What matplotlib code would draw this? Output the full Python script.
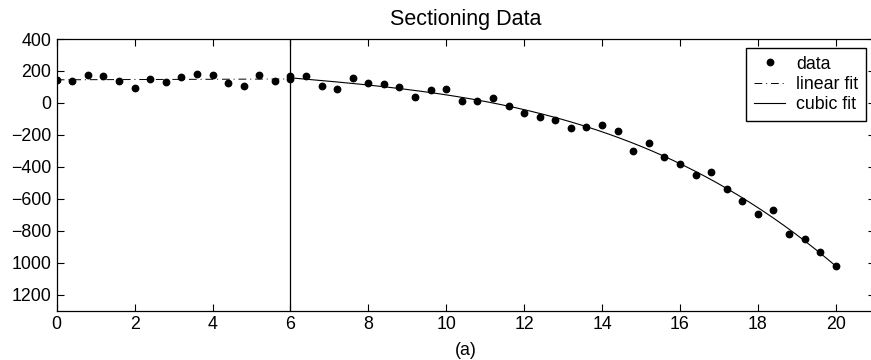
import numpy as np
import matplotlib
matplotlib.use('Agg')
import matplotlib.pyplot as plt

x_data = [0.0, 0.4, 0.8, 1.2, 1.6, 2.0, 2.4, 2.8, 3.2, 3.6, 4.0, 4.4, 4.8, 5.2, 5.6, 6.0,
          6.0, 6.4, 6.8, 7.2, 7.6, 8.0, 8.4, 8.8, 9.2, 9.6, 10.0, 10.4, 10.8, 11.2, 11.6, 12.0,
          12.4, 12.8, 13.2, 13.6, 14.0, 14.4, 14.8, 15.2, 15.6, 16.0, 16.4, 16.8, 17.2, 17.6,
          18.0, 18.4, 18.8, 19.2, 19.6, 20.0]
y_data = [144, 136, 173, 167, 136, 94, 152, 131, 161, 184, 173, 123, 104, 175, 136, 148,
          169, 171, 104, 90, 156, 125, 121, 102, 34, 78, 90, 14, 12, 29, -21, -66,
          -85, -106, -154, -151, -141, -176, -300, -253, -338, -382, -448, -433, -538, -614,
          -694, -671, -823, -852, -935, -1022]
x_split = 6

yticks = [400, 200, 0, -200, -400, -600, -800, -1000, -1200]
ytick_labels = ['400', '200', '0', '\u2212200', '\u2212400', '\u2212600', '\u2212800', '1000', '1200']
xticks = [0, 2, 4, 6, 8, 10, 12, 14, 16, 18, 20]

plt.rcParams['font.family'] = ['Liberation Sans', 'DejaVu Sans']

x = np.array(x_data, dtype=float)
y = np.array(y_data, dtype=float)

# fits on each section
left = x <= x_split
right = x >= x_split
p1 = np.polyfit(x[left], y[left], 1)
p3 = np.polyfit(x[right], y[right], 3)
xl = np.linspace(0, x_split, 50)
xr = np.linspace(x_split, 20, 200)

fig = plt.figure(figsize=(8.71, 3.6), dpi=100)
ax = fig.add_axes([56.7 / 871, 1 - 310.7 / 360, 818 / 871, 271.7 / 360])

ax.plot(x, y, 'o', color='k', markersize=4.6, label='data')
ax.plot(xl, np.polyval(p1, xl), color='k', lw=0.7, dashes=(8, 4, 1, 4), label='linear fit')
ax.plot(xr, np.polyval(p3, xr), color='k', lw=0.8, label='cubic fit')
ax.axvline(x_split, color='k', lw=0.9)

ax.set_xlim(0, 21)
ax.set_ylim(-1300, 400)
ax.set_xticks(xticks)
ax.set_yticks(yticks)
ax.set_yticklabels(ytick_labels)
ax.tick_params(direction='in', length=5, width=0.8, top=True, right=True,
               labelsize=12.8, pad=4)
for s in ax.spines.values():
    s.set_linewidth(0.9)

ax.set_title('Sectioning Data', fontsize=15.5, pad=10)
ax.set_xlabel('(a)', fontsize=12.8, labelpad=6)

leg = ax.legend(loc='upper right', bbox_to_anchor=(866 / 871, 1 - 47.7 / 360),
                bbox_transform=fig.transFigure, fontsize=12.8, fancybox=False,
                edgecolor='k', framealpha=1, borderaxespad=0, borderpad=0.45,
                handlelength=1.75, handletextpad=0.6, labelspacing=0.18)
leg.get_frame().set_linewidth(1.0)

fig.savefig('out.png', dpi=100)
